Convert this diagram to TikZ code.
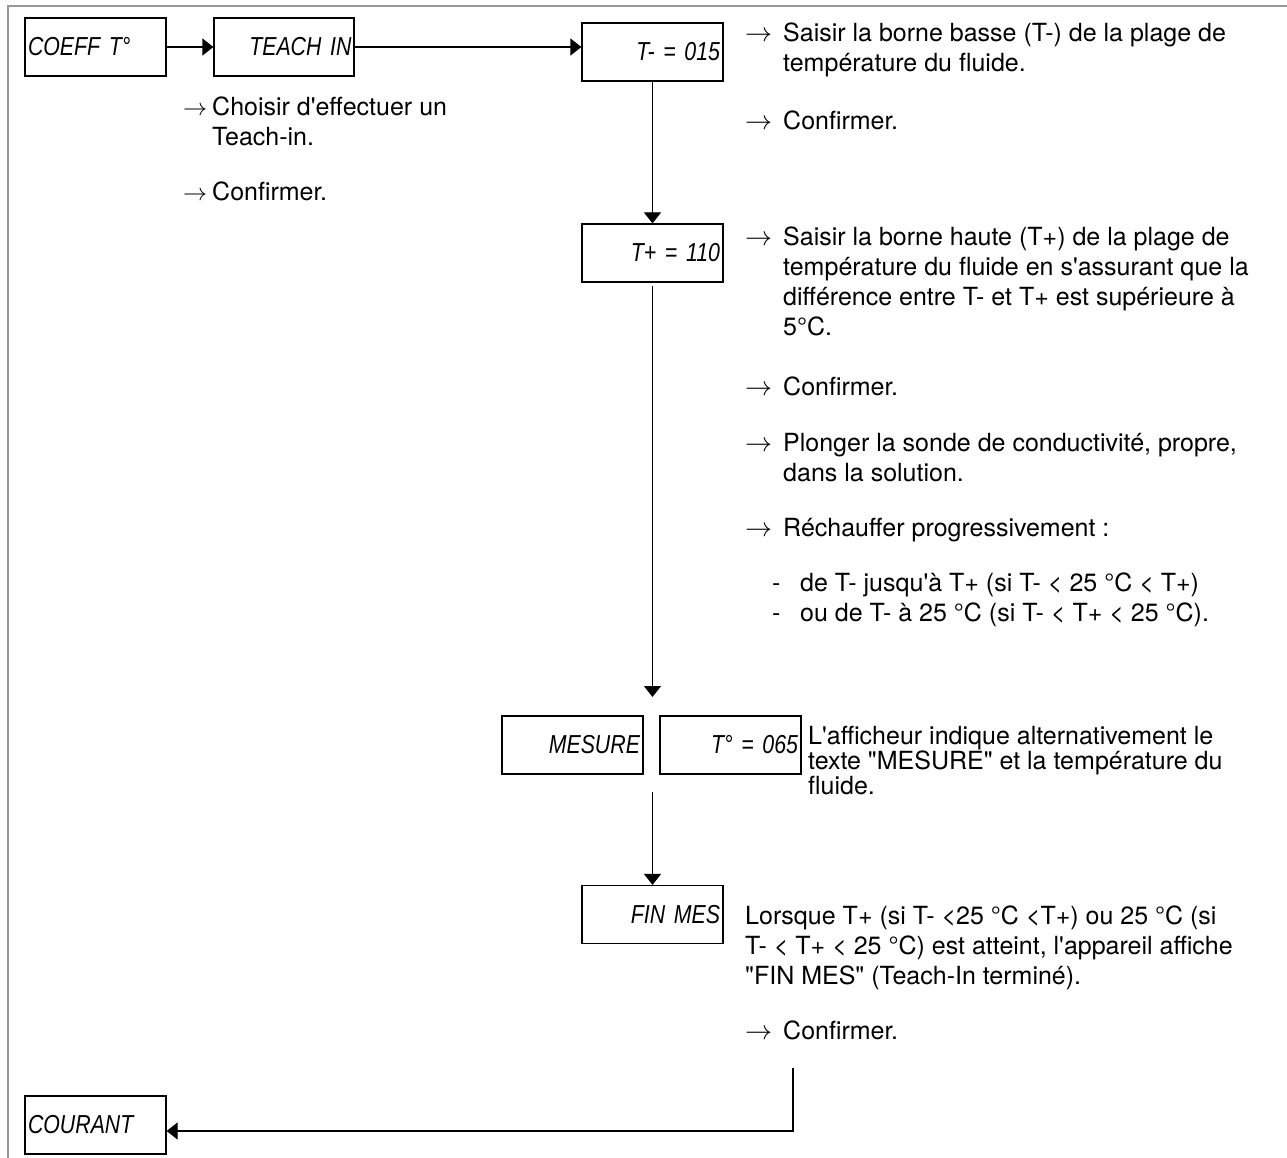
\documentclass[tikz,border=0pt]{standalone}
\usepackage{fontspec}
\setmainfont{TeX Gyre Heros}
\newfontfamily\lcdfont[FakeStretch=0.82]{Liberation Sans}
\usetikzlibrary{arrows.meta}
\newcommand\ap{\textquotesingle}
\newcommand\qq{\textquotedbl}
\newcommand\arl{\makebox[29pt][l]{\resizebox{24pt}{!}{$\rightarrow$}}}
\newcommand\indl{\hspace*{29pt}}
\newcommand\arr{\makebox[38pt][l]{\resizebox{27pt}{!}{$\rightarrow$}}}
\newcommand\indr{\hspace*{38pt}}
\newcommand\dsh{\makebox[28pt][l]{-}}
\begin{document}
\begin{tikzpicture}[x=1pt,y=-1pt,
  lcd/.style={draw, line width=1.2pt, minimum width=141pt, minimum height=58pt,
    inner sep=0pt, text width=135pt, font=\lcdfont\itshape\fontsize{26}{26}\selectfont},
  rlcd/.style={lcd, align=right},
  llcd/.style={lcd, align=left},
  conn/.style={line width=1.2pt, -{Triangle[length=11pt,width=17pt]}},
  txt/.style={anchor=base west, inner sep=0pt, align=left,
    font=\fontsize{25}{30}\selectfont},
  txtb/.style={txt, font=\fontsize{25}{25}\selectfont}]
\useasboundingbox (0,0) rectangle (1287,1158);
\fill[white] (0,0) rectangle (1287,1158);
\draw[line width=2.5pt, black!40] (8,1158) -- (8,6) -- (1287,6);

% display boxes
\node[llcd] (coeff) at (95.5,47) {COEFF T°};
\node[rlcd, minimum width=140pt] (teach) at (284,47) {TEACH IN};
\node[rlcd] (tminus) at (652.5,52) {T- = 015};
\node[rlcd] (tplus) at (652.5,253) {T+ = 110};
\node[rlcd] (mesure) at (572.5,745) {MESURE};
\node[rlcd] (tdeg) at (730.5,745) {T° = 065};
\node[rlcd] (fin) at (652.5,914.5) {FIN MES};
\node[llcd] (courant) at (95.5,1125) {COURANT};

\coordinate (mtop) at (652.5,697);
\coordinate (mbot) at (652.5,792);
\coordinate (ret) at (793,1068);

% connectors
\draw[conn] (coeff) -- (teach);
\draw[conn] (teach.east) -- (teach.east -| tminus.west);
\draw[conn] (tminus) -- (tplus);
\draw[conn, shorten <=3pt] (tplus) -- (mtop);
\draw[conn] (mbot) -- (fin);
\draw[conn] (ret) |- ([yshift=-6pt]courant.east);

% texts (anchor = baseline of the last line)
\node[txt] (c1) at (183,146) {\arl Choisir d\ap effectuer un\\\indl Teach-in.};
\node[txt] (c2) at (183,201) {\arl Confirmer.};
\node[txt] (m1) at (745,72) {\arr Saisir la borne basse (T-) de la plage de\\\indr température du fluide.};
\node[txt] (m2) at (745,130) {\arr Confirmer.};
\node[txt] (p1) at (745,335) {\arr Saisir la borne haute (T+) de la plage de\\\indr température du fluide en s\ap assurant que la\\\indr différence entre T- et T+ est supérieure à\\\indr 5°C.};
\node[txt] (p2) at (745,395) {\arr Confirmer.};
\node[txt] (p3) at (745,481) {\arr Plonger la sonde de conductivité, propre,\\\indr dans la solution.};
\node[txt] (p4) at (745,536) {\arr Réchauffer progressivement :};
\node[txt] (p5) at (772,621) {\dsh de T- jusqu\ap à T+ (si T- < 25 °C < T+)\\\dsh ou de T- à 25 °C (si T- < T+ < 25 °C).};
\node[txtb] (ms) at (808,794) {L\ap afficheur indique alternativement le\\texte \qq MESURE\qq{} et la température du\\fluide.};
\node[txt] (f1) at (745,984) {Lorsque T+ (si T- <25 °C <T+) ou 25 °C (si\\T- < T+ < 25 °C) est atteint, l\ap appareil affiche\\\qq FIN MES\qq{} (Teach-In terminé).};
\node[txt] (f2) at (745,1039) {\arr Confirmer.};
\end{tikzpicture}
\end{document}
